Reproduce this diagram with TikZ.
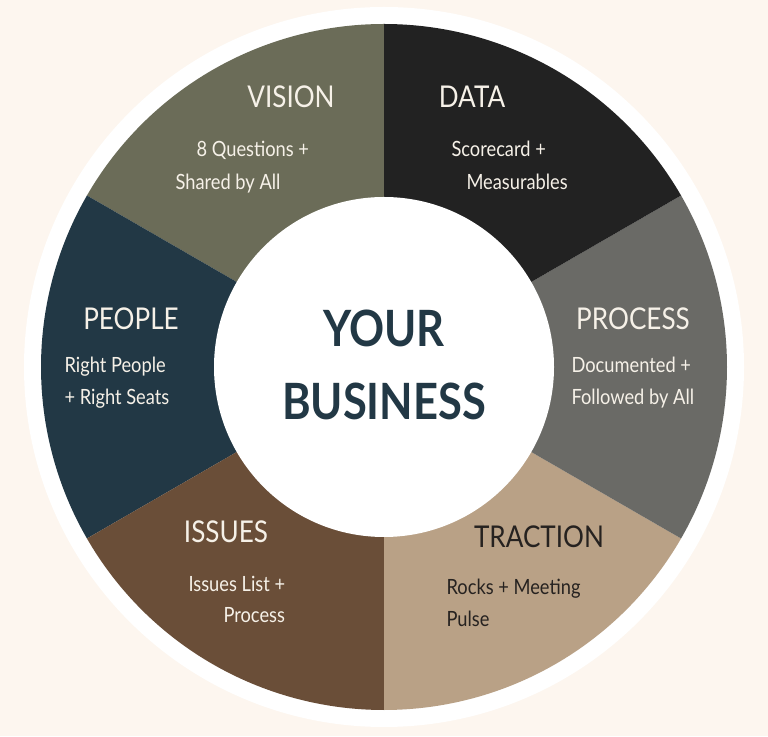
\documentclass[tikz,border=0pt]{standalone}
\usepackage{fontspec}
\setmainfont{Lato}[FakeStretch=0.87]
\definecolor{bgcream}{HTML}{FDF6EF}
\definecolor{visioncol}{HTML}{6B6C58}
\definecolor{datacol}{HTML}{222222}
\definecolor{processcol}{HTML}{6A6A66}
\definecolor{tractioncol}{HTML}{B9A186}
\definecolor{issuescol}{HTML}{6A4E38}
\definecolor{peoplecol}{HTML}{223845}
\definecolor{lighttext}{HTML}{F6F1E8}
\definecolor{darktext}{HTML}{262220}
\begin{document}
\begin{tikzpicture}[x=1pt, y=1pt, title/.style={anchor=base, font=\fontsize{30}{30}\selectfont, text=lighttext}, body/.style={anchor=base west, font=\fontsize{21}{21}\selectfont, text=lighttext}, dark/.style={text=darktext}, centre/.style={anchor=base, font=\fontsize{50}{50}\selectfont\bfseries, text=peoplecol}]

		\fill[bgcream] (0,0) rectangle (768,736);
		\useasboundingbox (0,0) rectangle (768,736);
		\coordinate (C) at (384,369);
		\fill[white] (C) circle[radius=360];
		% the six sectors, counter-clockwise from the top
		\foreach \col [count=\i] in {visioncol, peoplecol, issuescol, tractioncol, processcol, datacol}
			\fill[\col] (C) -- ++({30+60*\i}:343) arc[start angle={30+60*\i}, delta angle=60, radius=343] -- cycle;
		\fill[white] (C) circle[radius=170];

		\node[title] (vision) at (291,628) {VISION};
		\node[body] (visionA) at (193,579) {8 Questions +};
		\node[body] (visionB) at (172,546) {Shared by All};
		\node[title] (data) at (472,628) {DATA};
		\node[body] (dataA) at (448,579) {Scorecard +};
		\node[body] (dataB) at (463,546) {Measurables};
		\node[title] (people) at (131,406) {PEOPLE};
		\node[body] (peopleA) at (61,363) {Right People};
		\node[body] (peopleB) at (61,331) {+ Right Seats};
		\node[title] (process) at (633,406) {PROCESS};
		\node[body] (processA) at (568,363) {Documented +};
		\node[body] (processB) at (568,331) {Followed by All};
		\node[title] (issues) at (226,193) {ISSUES};
		\node[body] (issuesA) at (185,144) {Issues List +};
		\node[body] (issuesB) at (220,113) {Process};
		\node[title, dark] (traction) at (539,188) {TRACTION};
		\node[body, dark] (tractionA) at (443,141) {Rocks + Meeting};
		\node[body, dark] (tractionB) at (443,109) {Pulse};

		\node[centre] (your) at (384,389) {YOUR};
		\node[centre] (business) at (384,316) {BUSINESS};
	\end{tikzpicture}
\end{document}
